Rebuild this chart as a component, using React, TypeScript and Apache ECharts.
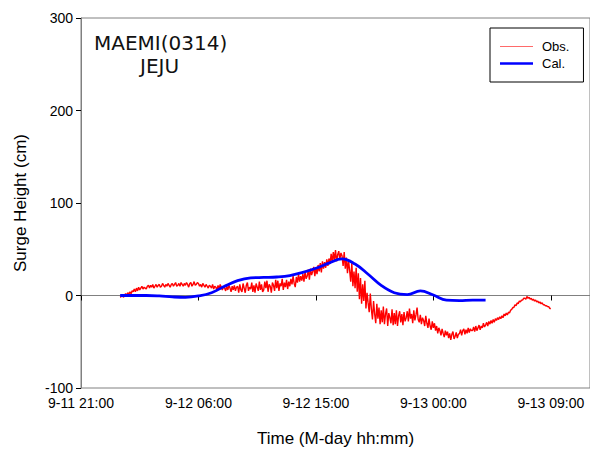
import React, { useEffect, useRef } from "react";
import * as echarts from "echarts";

// Time axis is in hours counted from 9-11 21:00
const AXIS_START_DAY = 11;
const AXIS_START_HOUR = 21;
const X_TICKS_HOURS = 9;

// Observed surge at JEJU, one sample every 5 minutes from hour 3 (9-12 00:00)
const OBS_START = 3;
const OBS_STEP = 1 / 12;
const obsValues: number[] = [
  -2, -1, 1, -2, 0, 2, 0, 3, 1, 4, 2, 5,
  4, 7, 4, 8, 5, 9, 6, 8, 10, 7, 9, 8,
  7, 10, 11, 8, 11, 9, 12, 8, 10, 12, 9, 11,
  12, 9, 10, 13, 11, 9, 12, 10, 13, 11, 9, 12,
  13, 10, 12, 14, 10, 11, 13, 10, 14, 12, 10, 13,
  11, 14, 12, 9, 13, 14, 10, 12, 15, 11, 12, 14,
  13, 10, 12, 9, 13, 11, 9, 12, 10, 8, 11, 10,
  8, 12, 7, 10, 9, 6, 11, 7, 12, 9, 6, 10,
  8, 5, 10, 6, 11, 8, 4, 10, 6, 11, 5, 9,
  10, 3, 12, 6, 4, 13, 8, 3, 11, 14, 5, 9,
  7, 14, 4, 11, 3, 13, 9, 5, 15, 6, 12, 4,
  6, 15, 8, 16, 4, 12, 10, 3, 14, 11, 5, 17,
  8, 16, 5, 13, 10, 18, 6, 14, 9, 17, 7, 15,
  10, 18, 12, 21, 13, 9, 20, 14, 23, 15, 21, 16,
  23, 15, 26, 18, 21, 28, 17, 29, 22, 26, 31, 21,
  30, 23, 33, 26, 35, 25, 37, 29, 36, 30, 39, 32,
  40, 34, 45, 36, 47, 38, 49, 37, 44, 48, 39, 46,
  43, 32, 47, 29, 41, 24, 38, 27, 15, 35, 10, 26,
  8, 30, 4, 24, -4, 19, -9, 12, -6, 16, -14, 3,
  -8, -18, 2, -15, -26, -6, -20, -30, -9, -25, -13, -31,
  -16, -29, -12, -31, -20, -14, -33, -19, -24, -30, -15, -32,
  -19, -31, -16, -33, -22, -17, -29, -20, -32, -18, -28, -24,
  -17, -28, -14, -25, -20, -30, -16, -27, -21, -13, -26, -29,
  -21, -31, -24, -27, -33, -22, -30, -35, -25, -33, -37, -28,
  -35, -30, -38, -33, -41, -35, -38, -43, -36, -41, -45, -38,
  -43, -39, -46, -41, -48, -42, -39, -47, -44, -40, -46, -42,
  -41, -37, -43, -38, -36, -42, -37, -41, -35, -40, -36, -38,
  -38, -34, -39, -33, -38, -35, -32, -37, -33, -35, -30, -34,
  -32, -29, -33, -28, -31, -27, -30, -26, -29, -25, -27, -24,
  -26, -23, -25, -22, -24, -20, -22, -19, -21, -18, -19, -16,
  -15, -13, -13, -10, -11, -8, -9, -6, -7, -5, -5, -3,
  -3, -4, -1, -3, -2, -4, -3, -5, -4, -6, -5, -7,
  -6, -8, -7, -9, -8, -10, -10, -11, -11, -12, -12, -14,
  -14,
];

// Computed surge, hourly from hour 3
const CAL_START = 3;
const CAL_STEP = 1;
const calValues: number[] = [
  0, 0, 0, -0.5, -1.5, -2, -0.5, 3, 10, 16, 19, 19.5, 20, 21.5, 25, 29.5,
  35, 39.5, 34, 23, 11, 3, 1, 5, 0.5, -5, -5.5, -5, -5,
];

const Y_MIN = -100;
const Y_MAX = 300;
const Y_STEP = 100;
const X_MIN = 0;
const X_MAX = 39;

const pad = (n: number) => (n < 10 ? "0" + n : String(n));

function hourLabel(v: number): string {
  const total = AXIS_START_HOUR + v;
  const day = AXIS_START_DAY + Math.floor(total / 24);
  const hh = total % 24;
  return `9-${day} ${pad(hh)}:00`;
}

export default function App() {
  const ref = useRef<HTMLDivElement>(null);

  useEffect(() => {
    if (!ref.current) return;
    const chart = echarts.init(ref.current, undefined, { renderer: "svg" });
    const obsData = obsValues.map((v, i) => [OBS_START + i * OBS_STEP, v]);
    const calData = calValues.map((v, i) => [CAL_START + i * CAL_STEP, v]);
    const axisGray = "#808080";
    const font = "Liberation Sans, Arial, sans-serif";

    chart.setOption({
      animation: false,
      backgroundColor: "#ffffff",
      grid: {
        left: 81,
        top: 18,
        width: 514,
        height: 372,
        show: true,
        borderColor: axisGray,
        borderWidth: 1,
        backgroundColor: "transparent",
      },
      legend: {
        left: 490,
        top: 28,
        orient: "vertical",
        padding: [12, 14, 12, 10],
        itemWidth: 33,
        itemHeight: 14,
        itemGap: 4,
        borderColor: "#000000",
        borderWidth: 1,
        backgroundColor: "#ffffff",
        textStyle: { fontFamily: font, fontSize: 13, color: "#000", padding: [0, 0, 0, 4] },
        data: [
          { name: "Obs.", icon: "path://M0,0h33v1h-33z", itemStyle: { color: "#ff6a6a" } },
          { name: "Cal.", icon: "path://M0,0h33v2.5h-33z", itemStyle: { color: "#0000ff" } },
        ],
      },
      xAxis: {
        type: "value",
        min: X_MIN,
        max: X_MAX,
        interval: X_TICKS_HOURS,
        name: "Time (M-day hh:mm)",
        nameLocation: "middle",
        nameGap: 42,
        nameTextStyle: { fontFamily: font, fontSize: 17, color: "#000" },
        axisLine: { show: true, lineStyle: { color: axisGray, width: 1 } },
        axisTick: { show: true, inside: false, length: 5, lineStyle: { color: "#000" } },
        axisLabel: {
          fontFamily: font,
          fontSize: 14,
          color: "#000",
          margin: 8,
          showMaxLabel: false,
          formatter: (v: number) => hourLabel(v),
        },
        splitLine: { show: false },
      },
      yAxis: {
        type: "value",
        min: Y_MIN,
        max: Y_MAX,
        interval: Y_STEP,
        name: "Surge Height (cm)",
        nameLocation: "middle",
        nameGap: 52,
        nameTextStyle: { fontFamily: font, fontSize: 17, color: "#000" },
        axisLine: { show: true, lineStyle: { color: axisGray, width: 1 } },
        axisTick: { show: true, inside: false, length: 5, lineStyle: { color: "#000" } },
        axisLabel: { fontFamily: font, fontSize: 14, color: "#000", margin: 8 },
        splitLine: { show: false },
      },
      graphic: [
        {
          type: "text",
          left: 94,
          top: 33,
          style: {
            text: "MAEMI(0314)",
            fontFamily: "DejaVu Sans, sans-serif",
            fontSize: 20,
            fill: "#111",
          },
        },
        {
          type: "text",
          left: 140,
          top: 56,
          style: {
            text: "JEJU",
            fontFamily: "DejaVu Sans, sans-serif",
            fontSize: 20,
            fill: "#111",
          },
        },
      ],
      series: [
        {
          name: "Obs.",
          type: "line",
          data: obsData,
          symbol: "none",
          color: "#ff0000",
          lineStyle: { color: "#ff0000", width: 1.4 },
        },
        {
          name: "Cal.",
          type: "line",
          data: calData,
          symbol: "none",
          smooth: 0.4,
          color: "#0000ff",
          lineStyle: { color: "#0000ff", width: 2.8 },
        },
      ],
    });

    return () => chart.dispose();
  }, []);

  return (
    <div
      ref={ref}
      style={{ position: "fixed", left: 0, top: 0, width: 590, height: 452, background: "#fff" }}
    />
  );
}
